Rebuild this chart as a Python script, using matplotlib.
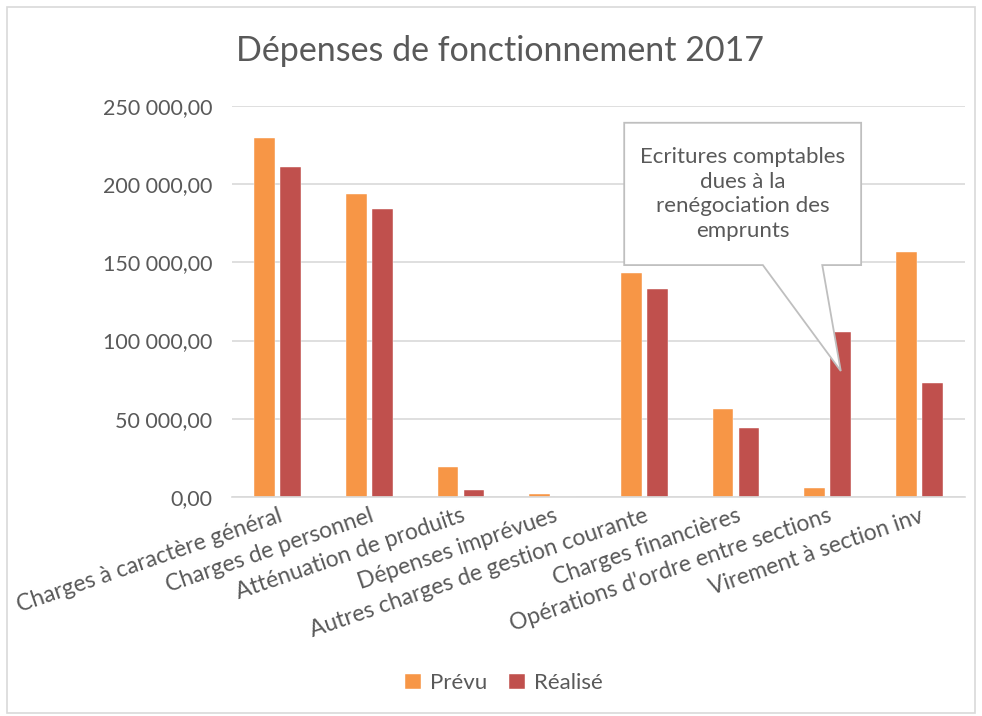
import matplotlib
matplotlib.use("Agg")
import matplotlib.pyplot as plt
from matplotlib.patches import Polygon, Rectangle
from matplotlib.ticker import FuncFormatter
import numpy as np

categories = ["Charges à caractère général", "Charges de personnel",
              "Atténuation de produits", "Dépenses imprévues",
              "Autres charges de gestion courante", "Charges financières",
              "Opérations d'ordre entre sections", "Virement à section inv"]
prevu = [229700, 193700, 19400, 1800, 143400, 56100, 5750, 156700]
realise = [211000, 184300, 4500, 0, 132800, 44300, 105500, 72900]
yticks = [0, 50000, 100000, 150000, 200000, 250000]
title = "Dépenses de fonctionnement 2017"
callout = "Ecritures comptables\ndues à la\nrenégociation des\nemprunts"

plt.rcParams["font.family"] = ["Lato", "DejaVu Sans"]
TXT = "#595959"
C_PREVU = "#F79646"
C_REAL = "#C0504D"

fig = plt.figure(figsize=(9.82, 7.16), dpi=100)
fig.patches.append(Rectangle((0.007, 0.004), 0.986, 0.986, transform=fig.transFigure,
                             fill=False, edgecolor="#D9D9D9", linewidth=1.2))
ax = fig.add_axes([0.236, 0.306, 0.747, 0.546])

x = np.arange(len(categories))
w = 0.225
ax.bar(x - 0.142, prevu, w, color=C_PREVU, label="Prévu", edgecolor="white", linewidth=0.3)
ax.bar(x + 0.142, realise, w, color=C_REAL, label="Réalisé", edgecolor="white", linewidth=0.3)

ax.set_xlim(-0.5, len(categories) - 0.5)
ax.set_ylim(0, 250000)
ax.set_yticks(yticks)
ax.yaxis.set_major_formatter(FuncFormatter(lambda v, p: f"{v:,.2f}".replace(",", " ").replace(".", ",")))
ax.grid(axis="y", color="#D9D9D9", linewidth=1.2)
ax.set_axisbelow(True)
for s in ["top", "right", "left"]:
    ax.spines[s].set_visible(False)
ax.spines["bottom"].set_color("#D9D9D9")
ax.spines["bottom"].set_linewidth(1.2)
ax.tick_params(axis="y", length=0, pad=14, labelsize=15.5, labelcolor=TXT)
ax.tick_params(axis="x", length=0, pad=6, labelsize=16.5, labelcolor=TXT)
ax.set_xticks(x)
ax.set_xticklabels(categories, rotation=19, ha="right", va="top", rotation_mode="anchor")

fig.text(0.509, 0.929, title, ha="center", va="center", fontsize=24.5, color=TXT)

# callout box pointing to the "Opérations d'ordre" Réalisé bar
tip_data = (6 + 0.142, 80500)
tip = ax.transAxes.inverted().transform(ax.transData.transform(tip_data))
bx0, bx1, by0, by1 = 0.535, 0.858, 0.593, 0.957
pts = [(bx0, by0), (bx0, by1), (bx1, by1), (bx1, by0),
       (0.805, by0), tuple(tip), (0.724, by0)]
ax.add_patch(Polygon(pts, closed=True, transform=ax.transAxes, facecolor="white",
                     edgecolor="#BFBFBF", linewidth=1.3, zorder=5, clip_on=False))
ax.text((bx0 + bx1) / 2, (by0 + by1) / 2, callout, transform=ax.transAxes,
        ha="center", va="center", fontsize=16, color=TXT, linespacing=1.3, zorder=6)

fig.legend(loc="center", bbox_to_anchor=(0.513, 0.046), ncol=2, frameon=False,
           fontsize=16, handlelength=0.7, handleheight=0.7, handletextpad=0.4,
           columnspacing=1.0, labelcolor=TXT)

fig.savefig("out.png", dpi=100)
